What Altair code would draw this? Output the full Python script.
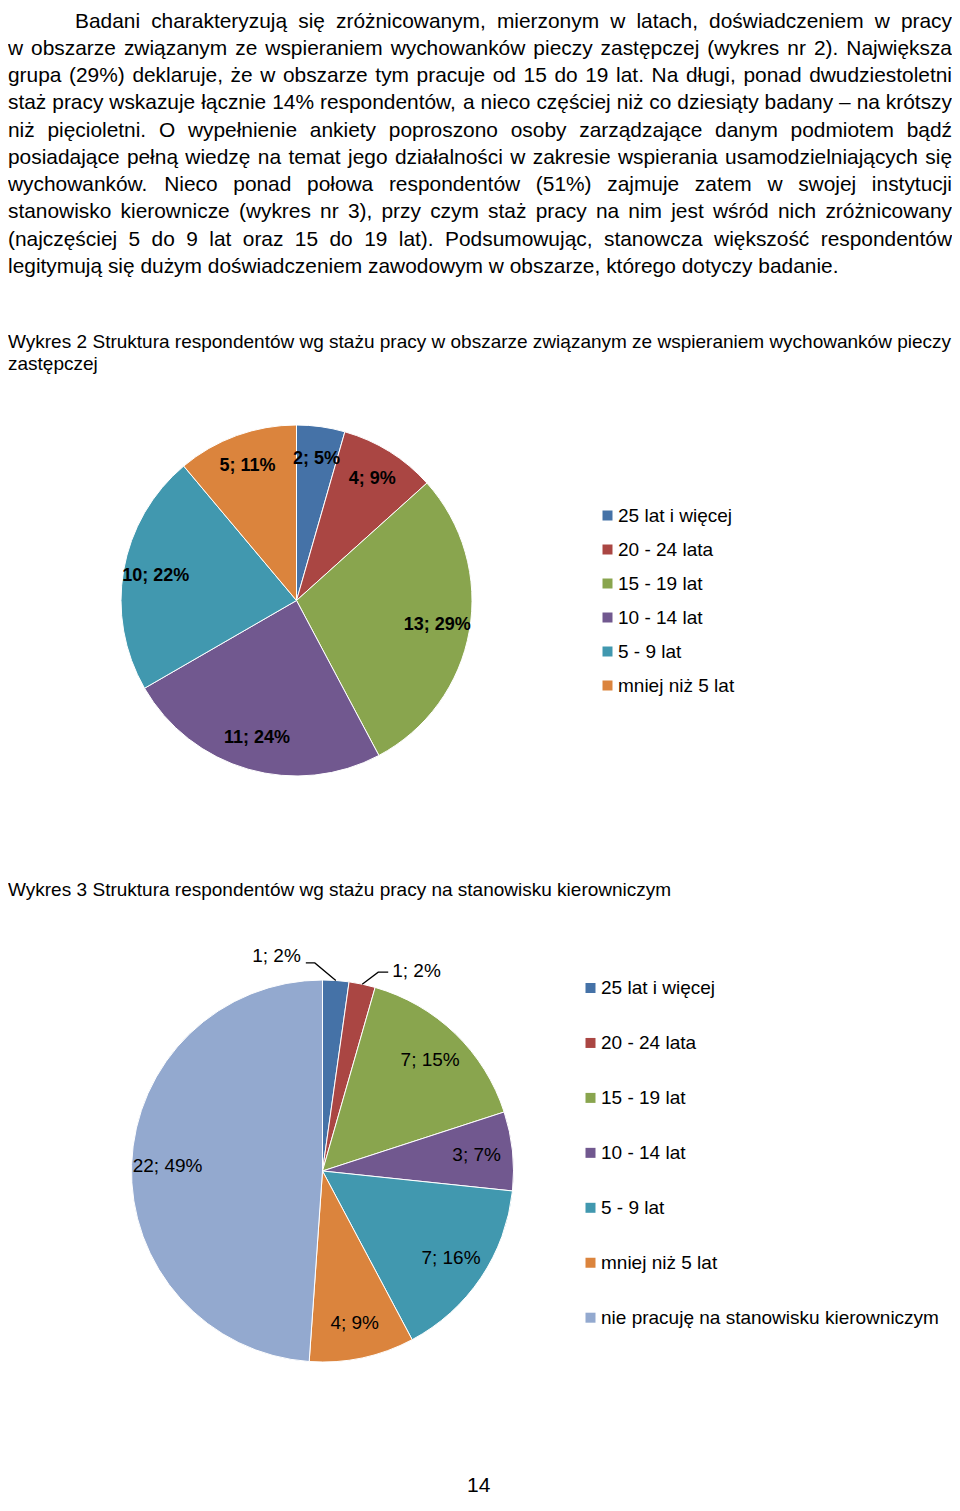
import math
import altair as alt
import pandas as pd

# ---------------- data ----------------
paragraph_lines = [
    "Badani charakteryzują się zróżnicowanym, mierzonym w latach, doświadczeniem w pracy",
    "w obszarze związanym ze wspieraniem wychowanków pieczy zastępczej (wykres nr 2). Największa",
    "grupa (29%) deklaruje, że w obszarze tym pracuje od 15 do 19 lat. Na długi, ponad dwudziestoletni",
    "staż pracy wskazuje łącznie 14% respondentów, a nieco częściej niż co dziesiąty badany – na krótszy",
    "niż pięcioletni. O wypełnienie ankiety poproszono osoby zarządzające danym podmiotem bądź",
    "posiadające pełną wiedzę na temat jego działalności w zakresie wspierania usamodzielniających się",
    "wychowanków. Nieco ponad połowa respondentów (51%) zajmuje zatem w swojej instytucji",
    "stanowisko kierownicze (wykres nr 3), przy czym staż pracy na nim jest wśród nich zróżnicowany",
    "(najczęściej 5 do 9 lat oraz 15 do 19 lat). Podsumowując, stanowcza większość respondentów",
    "legitymują się dużym doświadczeniem zawodowym w obszarze, którego dotyczy badanie.",
]
caption2_lines = [
    "Wykres 2 Struktura respondentów wg stażu pracy w obszarze związanym ze wspieraniem wychowanków pieczy",
    "zastępczej",
]
caption3 = "Wykres 3 Struktura respondentów wg stażu pracy na stanowisku kierowniczym"
page_number = "14"

cats1 = ["25 lat i więcej", "20 - 24 lata", "15 - 19 lat", "10 - 14 lat", "5 - 9 lat", "mniej niż 5 lat"]
counts1 = [2, 4, 13, 11, 10, 5]
pcts1 = [5, 9, 29, 24, 22, 11]

cats2 = cats1 + ["nie pracuję na stanowisku kierowniczym"]
counts2 = [1, 1, 7, 3, 7, 4, 22]
pcts2 = [2, 2, 15, 7, 16, 9, 49]

colors2 = ["#4572A7", "#AA4643", "#89A54E", "#71588F", "#4198AF", "#DB843D", "#93A9CF"]
colors1 = colors2[:6]

FONT = "Liberation Sans, Arial, sans-serif"
W, H = 944, 1490

# ---------------- text layout helpers (Arial metrics) ----------------
AW = dict(a=556, b=556, c=500, d=556, e=556, f=278, g=556, h=556, i=222, j=222, k=500, l=222, m=833,
          n=556, o=556, p=556, q=556, r=333, s=500, t=278, u=556, v=500, w=722, x=500, y=500, z=500)
AW.update({"ą": 556, "ę": 556, "ć": 500, "ł": 222, "ń": 556, "ó": 556, "ś": 500, "ź": 500, "ż": 500})
AW.update(dict(A=667, B=667, C=722, D=722, E=667, F=611, G=778, H=722, I=278, J=500, K=667, L=556, M=833,
               N=722, O=778, P=667, Q=778, R=722, S=667, T=611, U=722, V=667, W=944, X=667, Y=667, Z=611))
AW.update({str(dg): 556 for dg in range(10)})
AW.update({" ": 278, "(": 333, ")": 333, "%": 889, ",": 278, ".": 278, "–": 556, "-": 333, ";": 278, ":": 278})


def text_w(s, fs):
    return sum(AW.get(ch, 556) for ch in s) * fs / 1000.0


def place_words(line, left, right, y, fs, justify=True):
    words = line.split(" ")
    rows = []
    if justify and len(words) > 1:
        total = sum(text_w(wd, fs) for wd in words)
        gap = (right - left - total) / (len(words) - 1)
    else:
        gap = text_w(" ", fs)
    x = left
    for wd in words:
        rows.append({"x": x, "y": y, "t": wd})
        x += text_w(wd, fs) + gap
    return rows


# paragraph
PFS = 20.9
prow = []
for i, line in enumerate(paragraph_lines):
    left = 67 if i == 0 else 0
    just = i < len(paragraph_lines) - 1
    prow += place_words(line, left, W, 19.5 + 27.25 * i, PFS, just)
para_df = pd.DataFrame(prow)

CFS = 19
crow = place_words(caption2_lines[0], 0, W - 1, 339.5, CFS, True)
crow += place_words(caption2_lines[1], 0, W, 361.5, CFS, False)
crow += place_words(caption3, 0, W, 888, CFS, False)
cap_df = pd.DataFrame(crow)

page_df = pd.DataFrame([{"x": 459, "y": 1484, "t": page_number}])

base_x = alt.X("x:Q", scale=None, axis=None)
base_y = alt.Y("y:Q", scale=None, axis=None)

para = alt.Chart(para_df).mark_text(align="left", baseline="alphabetic", font=FONT, fontSize=PFS,
                                    color="black").encode(x=base_x, y=base_y, text="t:N")
caps = alt.Chart(cap_df).mark_text(align="left", baseline="alphabetic", font=FONT, fontSize=CFS,
                                   color="black").encode(x=base_x, y=base_y, text="t:N")
page = alt.Chart(page_df).mark_text(align="left", baseline="alphabetic", font=FONT, fontSize=21,
                                    color="black").encode(x=base_x, y=base_y, text="t:N")

# ---------------- pie 1 ----------------
C1X, C1Y, R1 = 288.5, 592.5, 175.5
df1 = pd.DataFrame({
    "cat": cats1, "count": counts1, "idx": list(range(len(cats1))),
    "lab": [f"{c}; {p}%" for c, p in zip(counts1, pcts1)],
})
leg1 = alt.Legend(orient="none", legendX=590, legendY=498, title=None, symbolType="square",
                  symbolSize=100, symbolStrokeWidth=0, labelFont=FONT, labelFontSize=19,
                  labelColor="black", labelOffset=1, rowPadding=14, padding=0, labelLimit=0)
pie1 = alt.Chart(df1).mark_arc(outerRadius=R1, stroke="white", strokeWidth=1).encode(
    x=alt.value(C1X), y=alt.value(C1Y),
    theta=alt.Theta("count:Q", stack=True),
    order=alt.Order("idx:Q", sort="ascending"),
    color=alt.Color("cat:N", sort=cats1, scale=alt.Scale(domain=cats1, range=colors1), legend=leg1),
)
lab1 = alt.Chart(df1).mark_text(radius=143, font=FONT, fontSize=18, fontWeight="bold",
                                color="black").encode(
    x=alt.value(C1X), y=alt.value(C1Y),
    theta=alt.Theta("count:Q", stack=True),
    order=alt.Order("idx:Q", sort="ascending"),
    text="lab:N",
)

# ---------------- pie 2 ----------------
C2X, C2Y, R2 = 314.5, 1163, 191
leader_idx = {0: {"elbow": (-21, -17.5), "end": (-30, -17.5), "text": (-35, -24.5), "align": "right"},
              1: {"elbow": (16, -12), "end": (26, -12), "text": (30, -13), "align": "left"}}
df2 = pd.DataFrame({
    "cat": cats2, "count": counts2, "idx": list(range(len(cats2))),
    "lab": ["" if i in leader_idx else f"{c}; {p}%" for i, (c, p) in enumerate(zip(counts2, pcts2))],
})
leg2 = alt.Legend(orient="none", legendX=573, legendY=970.5, title=None, symbolType="square",
                  symbolSize=100, symbolStrokeWidth=0, labelFont=FONT, labelFontSize=19,
                  labelColor="black", labelOffset=1, rowPadding=34.95, padding=0, labelLimit=0)
pie2 = alt.Chart(df2).mark_arc(outerRadius=R2, stroke="white", strokeWidth=1).encode(
    x=alt.value(C2X), y=alt.value(C2Y),
    theta=alt.Theta("count:Q", stack=True),
    order=alt.Order("idx:Q", sort="ascending"),
    color=alt.Color("cat:N", sort=cats2, scale=alt.Scale(domain=cats2, range=colors2), legend=leg2),
)
lab2 = alt.Chart(df2).mark_text(radius=155, font=FONT, fontSize=19, color="black").encode(
    x=alt.value(C2X), y=alt.value(C2Y),
    theta=alt.Theta("count:Q", stack=True),
    order=alt.Order("idx:Q", sort="ascending"),
    text="lab:N",
)

# leader lines + outside labels for the small slices
total2 = sum(counts2)
line_rows, ltext_rows = [], []
cum = 0
for i, c in enumerate(counts2):
    if i in leader_idx:
        a = (cum + c / 2) / total2 * 2 * math.pi
        ex, ey = C2X + R2 * math.sin(a), C2Y - R2 * math.cos(a)
        spec = leader_idx[i]
        pts = [(ex, ey), (ex + spec["elbow"][0], ey + spec["elbow"][1]), (ex + spec["end"][0], ey + spec["end"][1])]
        for k, (px, py) in enumerate(pts):
            line_rows.append({"x": px, "y": py, "g": i, "k": k})
        ltext_rows.append({"x": ex + spec["text"][0], "y": ey + spec["text"][1],
                           "t": f"{c}; {pcts2[i]}%", "al": spec["align"]})
    cum += c
lines_df = pd.DataFrame(line_rows)
ltext_df = pd.DataFrame(ltext_rows)

leaders = alt.Chart(lines_df).mark_line(color="black", strokeWidth=1.3).encode(
    x=base_x, y=base_y, detail="g:N", order="k:Q")
ltext_r = alt.Chart(ltext_df[ltext_df.al == "right"]).mark_text(
    align="right", baseline="middle", font=FONT, fontSize=19, color="black").encode(
    x=base_x, y=base_y, text="t:N")
ltext_l = alt.Chart(ltext_df[ltext_df.al == "left"]).mark_text(
    align="left", baseline="middle", font=FONT, fontSize=19, color="black").encode(
    x=base_x, y=base_y, text="t:N")

chart = alt.layer(
    para, caps, page, pie1, lab1, pie2, lab2, leaders, ltext_r, ltext_l
).resolve_scale(
    theta="independent", color="independent"
).properties(
    width=W, height=H, padding=0, autosize=alt.AutoSizeParams(type="none"), background="white"
).configure_view(stroke=None)

chart.save("out.html", embed_options={"renderer": "svg", "actions": False})
